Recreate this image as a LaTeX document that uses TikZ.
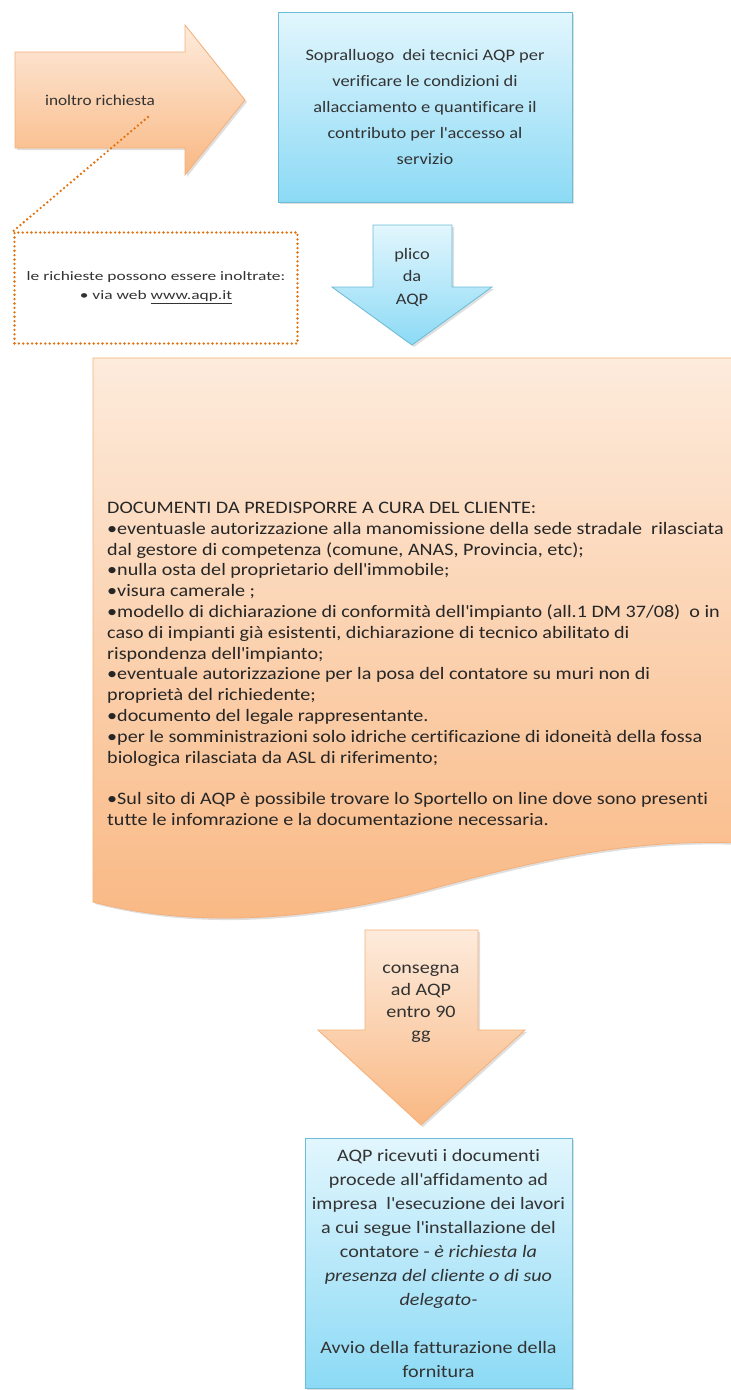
\documentclass[tikz,border=0pt]{standalone}
\usepackage{fontspec}
\setmainfont[FakeStretch=1.15, Ligatures=NoCommon]{Carlito}
\newfontfamily\notefont[FakeStretch=1.35, Ligatures=NoCommon]{Carlito}
\usepackage{xcolor}
\usetikzlibrary{positioning, shadows}
\definecolor{peachtop}{HTML}{FDEBDC}
\definecolor{peachbot}{HTML}{F9B883}
\definecolor{peachline}{HTML}{F5B07A}
\definecolor{skytop}{HTML}{E2F6FD}
\definecolor{skybot}{HTML}{8CDAF5}
\definecolor{skyline}{HTML}{6BBCD6}
\definecolor{dotorange}{HTML}{E0720F}
\newcommand{\apo}{\textquotesingle}

\begin{document}
\begin{tikzpicture}[x=1pt, y=-1pt,
				orangeshape/.style={draw=peachline, line width=0.8pt,
					top color=peachtop, bottom color=peachbot,
					drop shadow={opacity=0.25, shadow xshift=2pt, shadow yshift=-2pt}},
				blueshape/.style={draw=skyline, line width=0.8pt,
					top color=skytop, bottom color=skybot,
					drop shadow={opacity=0.25, shadow xshift=2pt, shadow yshift=-2pt}},
				dotline/.style={dotorange, line width=2.6pt, line cap=round,
					dash pattern=on 0pt off 4.4pt},
				textlabel/.style={align=center, inner sep=0pt, text=black!80}]
	\useasboundingbox (0,0) rectangle (731,1390);

	% request arrow
	\path[orangeshape] (15,52) -- (185,52) -- (185,25) -- (245,100)
		-- (185,175) -- (185,148) -- (15,148) -- cycle;
	\node at (100,100) (request) [textlabel, font=\fontsize{15}{18}\selectfont] {inoltro richiesta};
	\coordinate (reqfoot) at (148,117);

	% survey box
	\node at (425,107) (survey) [blueshape, minimum width=294pt, minimum height=190pt,
		textlabel, font=\fontsize{16}{26}\selectfont]
		{Sopralluogo\ \ dei tecnici AQP per\\ verificare le condizioni di\\
		allacciamento e quantificare il\\ contributo per l\apo accesso al\\ servizio};

	% note on how to send the request
	\node at (156,288) (note) [minimum width=283pt, minimum height=111pt,
		draw=dotorange, line width=2.6pt, line cap=round, dash pattern=on 0pt off 4.4pt,
		textlabel, font=\notefont\fontsize{12.9}{19}\selectfont]
		{le richieste possono essere inoltrate:\\ • via web \underline{www.aqp.it}};
	\draw[dotline] (reqfoot) -- (note.north west);

	% plico arrow
	\path[blueshape] (373,225) -- (452,225) -- (452,287) -- (492,287)
		-- (412,345) -- (332,287) -- (373,287) -- cycle;
	\node at (412,277) (plico) [textlabel, font=\fontsize{16}{22.5}\selectfont] {plico\\ da\\ AQP};

	% documents
	\path[orangeshape] (93,358) -- (740,358) -- (740,843)
		.. controls (620,838) and (520,865) .. (420,892)
		.. controls (320,918) and (200,930) .. (93,902) -- cycle;
	\node at (107,502) (docs) [anchor=north west, align=left, inner sep=0pt, text=black!85,
		font=\fontsize{17.5}{20.8}\selectfont]
		{DOCUMENTI DA PREDISPORRE A CURA DEL CLIENTE:\\
		•eventuasle autorizzazione alla manomissione della sede stradale\ \ rilasciata\\
		dal gestore di competenza (comune, ANAS, Provincia, etc);\\
		•nulla osta del proprietario dell\apo immobile;\\
		•visura camerale ;\\
		•modello di dichiarazione di conformità dell\apo impianto (all.1 DM 37/08)\ \ o in\\
		caso di impianti già esistenti, dichiarazione di tecnico abilitato di\\
		rispondenza dell\apo impianto;\\
		•eventuale autorizzazione per la posa del contatore su muri non di\\
		proprietà del richiedente;\\
		•documento del legale rappresentante.\\
		•per le somministrazioni solo idriche certificazione di idoneità della fossa\\
		biologica rilasciata da ASL di riferimento;\\[20.8pt]
		•Sul sito di AQP è possibile trovare lo Sportello on line dove sono presenti\\
		tutte le infomrazione e la documentazione necessaria.};

	% delivery arrow
	\path[orangeshape] (365,930) -- (478,930) -- (478,1030) -- (525,1030)
		-- (421,1125) -- (318,1030) -- (365,1030) -- cycle;
	\node at (421,1004) (delivery) [textlabel, font=\fontsize{17.5}{22}\selectfont]
		{consegna\\ ad AQP\\ entro 90\\ gg};

	% works box
	\node at (438.5,1263) (works) [blueshape, minimum width=267pt, minimum height=250pt,
		textlabel, font=\fontsize{17.5}{24}\selectfont]
		{AQP ricevuti i documenti\\ procede all\apo affidamento ad\\
		impresa\ \ l\apo esecuzione dei lavori\\ a cui segue l\apo installazione del\\
		contatore - \textit{è richiesta la}\\ \textit{presenza del cliente o di suo}\\
		\textit{delegato-}\\[24pt] Avvio della fatturazione della\\ fornitura};
\end{tikzpicture}
\end{document}
